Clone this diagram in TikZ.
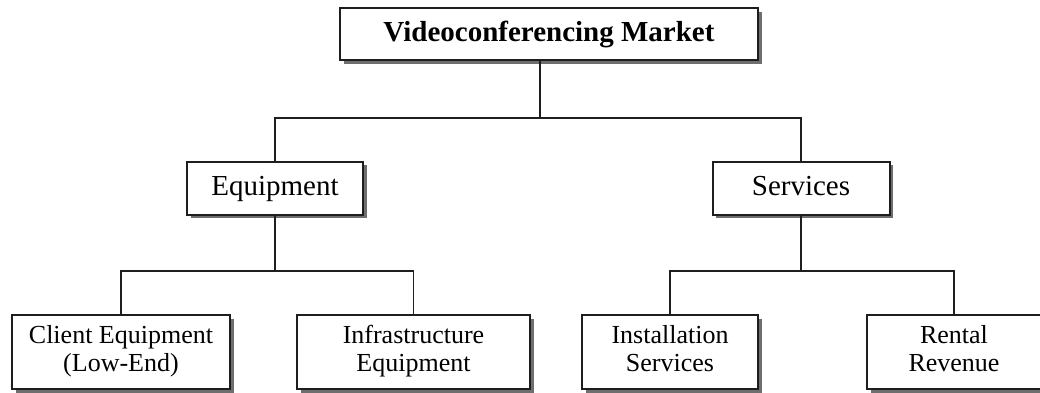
\documentclass[tikz,border=0pt]{standalone}
\usepackage{fontspec}
\setmainfont{Liberation Serif}
\usepackage{tikz}
\usetikzlibrary{shadows}
\definecolor{ink}{HTML}{1E1E1E}
\definecolor{shade}{HTML}{6E6E6E}

\tikzset{
  box/.style={draw=ink,line width=1pt,fill=white,inner sep=0pt,align=center,
    drop shadow={shadow xshift=1.8pt,shadow yshift=-1.8pt,fill=shade,opacity=1}},
  link/.style={draw=ink,line width=0.8pt}
}

\begin{document}
\begin{tikzpicture}[x=0.5pt,y=-0.5pt]
    \useasboundingbox (0,0) rectangle (1040,392);
    % top level
    \node[box,minimum width=209pt,minimum height=26pt,text height=10pt,text depth=3pt,
      font=\fontsize{14.5}{16}\selectfont\bfseries]
      (market) at (549,34) {Videoconferencing Market};
    % second level
    \tikzset{mid/.style={box,minimum height=26.5pt,text height=10pt,text depth=3pt,
      font=\fontsize{14.5}{16}\selectfont}}
    \node[mid,minimum width=88pt] (equip) at (275,188) {Equipment};
    \node[mid,minimum width=88.5pt] (serv) at (801,188) {Services};
    % third level
    \tikzset{leaf/.style={box,minimum height=37pt,font=\fontsize{13}{14}\selectfont}}
    \node[leaf,minimum width=109pt] (client) at (121,352) {Client Equipment\strut\\(Low-End)\strut};
    \node[leaf,minimum width=116.5pt] (infra) at (413.5,352) {Infrastructure\strut\\Equipment\strut};
    \node[leaf,minimum width=88pt] (install) at (670,352) {Installation\strut\\Services\strut};
    \node[leaf,minimum width=87pt] (rental) at (954,352) {Rental\strut\\Revenue\strut};
    % connectors
    \coordinate (topbar) at (540,118);
    \coordinate (eqbar) at (275,271);
    \coordinate (svbar) at (801,271);
    \draw[link] (market.south -| topbar) -- (topbar);
    \draw[link] (equip.north) |- (topbar) -| (serv.north);
    \draw[link] (equip.south) -- (eqbar);
    \draw[link] (client.north) |- (eqbar) -| (infra.north);
    \draw[link] (serv.south) -- (svbar);
    \draw[link] (install.north) |- (svbar) -| (rental.north);
\end{tikzpicture}
\end{document}
